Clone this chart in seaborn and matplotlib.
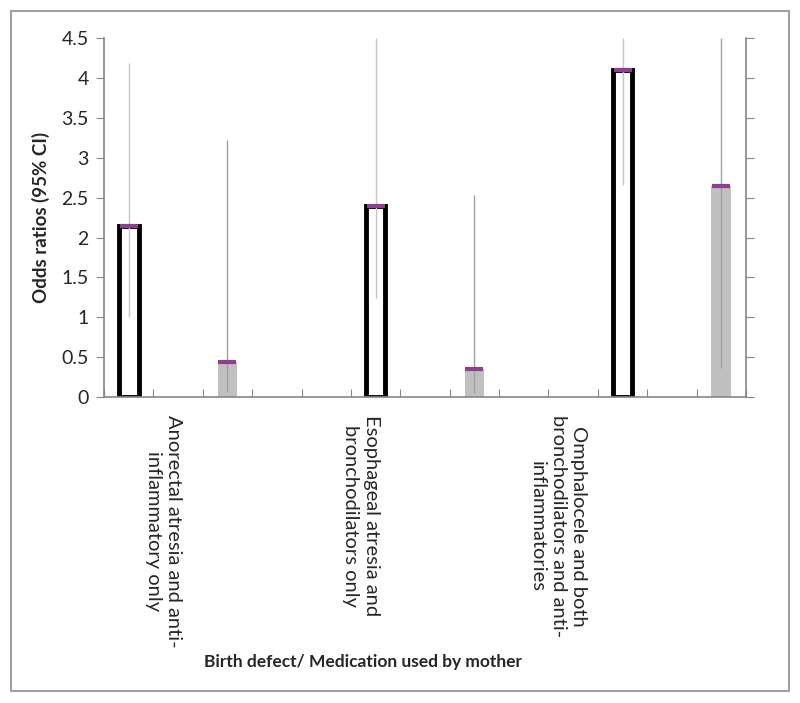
import numpy as np
import pandas as pd
import seaborn as sns
import matplotlib.pyplot as plt
from matplotlib.patches import Rectangle

# data
defect_labels = [
    "Anorectal atresia and anti-\ninflammatory only",
    "Esophageal atresia and\nbronchodilators only",
    "Omphalocele and both\nbronchodilators and anti-\ninflammatories",
]
or_outline = [2.15, 2.39, 4.10]
ci_outline_low = [1.00, 1.24, 2.66]
ci_outline_high = [4.19, 4.5, 4.5]
or_gray = [0.44, 0.35, 2.65]
ci_gray_low = [0.06, 0.05, 0.36]
ci_gray_high = [3.22, 2.54, 4.5]
y_ticks = [0, 0.5, 1, 1.5, 2, 2.5, 3, 3.5, 4, 4.5]

# layout: 13 category slots like the original sheet
n_slots = 13
outline_slots = [0, 5, 10]
gray_slots = [2, 7, 12]
label_pos = [0.7, 4.7, 8.7]

df_out = pd.DataFrame({"slot": outline_slots, "value": or_outline})
df_gray = pd.DataFrame({"slot": gray_slots, "value": or_gray})

sns.set_style("white")
plt.rcParams['font.family'] = ['Lato', 'DejaVu Sans']

fig = plt.figure(figsize=(8, 7.03), dpi=100)
ax = fig.add_axes([0.13, 0.4353, 0.8025, 0.5102])

order = list(range(n_slots))
sns.barplot(data=df_out, x="slot", y="value", order=order, width=0.4,
            color="white", edgecolor="black", linewidth=3.5, ax=ax, zorder=2)
sns.barplot(data=df_gray, x="slot", y="value", order=order, width=0.4,
            color="#c0c0c0", edgecolor="none", ax=ax, zorder=2)

# confidence interval lines
ax.vlines(outline_slots, ci_outline_low, ci_outline_high, color="#c4c4c4", lw=1, zorder=3)
ax.vlines(gray_slots, ci_gray_low, ci_gray_high, color="#a0a0a0", lw=1, zorder=3)

# point estimate markers
ax.plot(outline_slots, or_outline, ls="none", marker="_", ms=13, mew=3, color="#8e3f8e", zorder=4)
ax.plot(gray_slots, or_gray, ls="none", marker="_", ms=13, mew=3, color="#8e3f8e", zorder=4)

ax.set_xlim(-0.5, n_slots - 0.5)
ax.set_ylim(0, 4.5)
ax.set_yticks(y_ticks)
ax.set_yticklabels([f"{v:g}" for v in y_ticks], fontsize=14)

ax.set_xticks(np.arange(-0.5, n_slots, 1))
ax.set_xticklabels([])
ax.set_xticks(label_pos, minor=True)
ax.set_xticklabels(defect_labels, minor=True, rotation=270, fontsize=14.5,
                   ha="center", va="top", multialignment="center", linespacing=1.25)
ax.tick_params(axis="x", which="major", direction="in", length=6, color="#868686",
               bottom=True)
ax.tick_params(axis="x", which="minor", length=0, pad=13, bottom=True)
ax.tick_params(axis="y", direction="out", length=6, color="#868686",
               left=True, right=True, labelright=False, pad=5)

for side in ["left", "right", "bottom"]:
    ax.spines[side].set_color("#868686")
    ax.spines[side].set_linewidth(1.2)
ax.spines["top"].set_visible(False)

ax.set_xlabel("")
ax.set_ylabel("Odds ratios (95% CI)", fontsize=13.5, fontweight="bold", labelpad=8)
fig.text(363 / 800, 1 - 662 / 703, "Birth defect/ Medication used by mother",
         fontsize=12.5, fontweight="bold", ha="center", va="center")

# outer frame
fig.patches.append(Rectangle((11 / 800, 1 - 691 / 703), 778 / 800, 680 / 703,
                             transform=fig.transFigure, fill=False,
                             edgecolor="#a0a0a0", lw=1.5))

fig.savefig("out.png", dpi=100)
